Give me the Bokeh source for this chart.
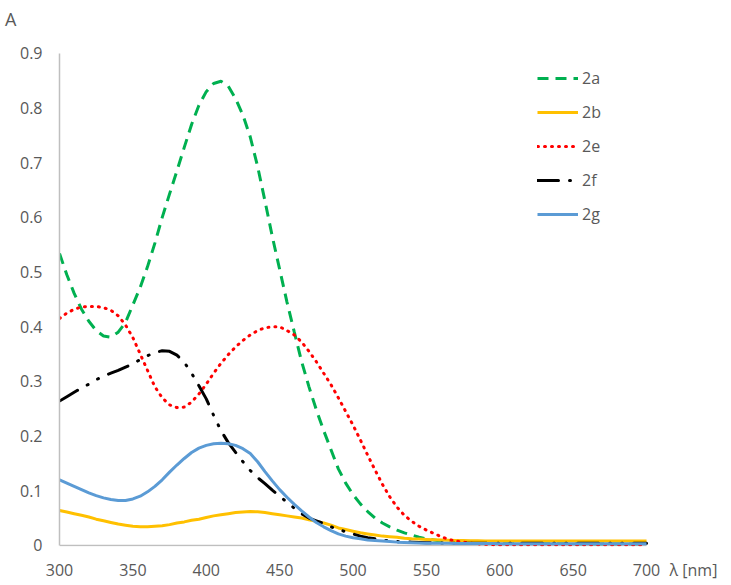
from bokeh.plotting import figure
from bokeh.models import Range1d, FixedTicker, Legend, LinearAxis
from bokeh.embed import file_html
from bokeh.resources import INLINE

wavelength = list(range(300, 705, 5))

a2 = ([0.534, 0.495, 0.461, 0.432, 0.41, 0.393, 0.383, 0.381, 0.39, 0.408,
       0.44, 0.472, 0.51, 0.553, 0.60, 0.643, 0.685, 0.728, 0.77, 0.805,
       0.83, 0.845, 0.849, 0.84, 0.817, 0.787, 0.747, 0.693, 0.63, 0.565,
       0.505, 0.445, 0.39, 0.336, 0.29, 0.248, 0.21, 0.175, 0.14, 0.114,
       0.093, 0.076, 0.062, 0.05, 0.041, 0.034, 0.028, 0.023, 0.019, 0.015,
       0.012, 0.01, 0.008, 0.007, 0.006, 0.0055, 0.005, 0.0045, 0.004, 0.004]
      + [0.004] * 10 + [0.003] * 11)
b2 = ([0.064, 0.061, 0.058, 0.055, 0.052, 0.048, 0.045, 0.042, 0.039, 0.037,
       0.035, 0.034, 0.034, 0.035, 0.036, 0.038, 0.041, 0.043, 0.046, 0.048,
       0.051, 0.054, 0.056, 0.058, 0.060, 0.061, 0.062, 0.0615, 0.060, 0.058,
       0.056, 0.054, 0.052, 0.05, 0.047, 0.044, 0.041, 0.037, 0.032, 0.029,
       0.026, 0.023, 0.021, 0.019, 0.017, 0.016, 0.015, 0.013, 0.012, 0.0115,
       0.011, 0.0105, 0.010, 0.0095, 0.009, 0.009, 0.0085, 0.0085, 0.008, 0.008]
      + [0.008] * 21)
e2 = ([0.415, 0.425, 0.432, 0.436, 0.437, 0.437, 0.435, 0.43, 0.42, 0.403,
       0.38, 0.35, 0.32, 0.29, 0.27, 0.257, 0.252, 0.253, 0.262, 0.277,
       0.295, 0.315, 0.333, 0.349, 0.363, 0.375, 0.385, 0.393, 0.398, 0.40,
       0.40, 0.393, 0.385, 0.372, 0.355, 0.336, 0.315, 0.294, 0.27, 0.245,
       0.22, 0.193, 0.165, 0.138, 0.112, 0.089, 0.07, 0.055, 0.044, 0.035,
       0.028, 0.022, 0.016, 0.011, 0.008, 0.006, 0.004, 0.003, 0.002, 0.0015]
      + [0.001] * 21)
f2 = ([0.264, 0.272, 0.28, 0.288, 0.295, 0.303, 0.31, 0.315, 0.32, 0.326,
       0.332, 0.34, 0.347, 0.353, 0.356, 0.355, 0.348, 0.335, 0.315, 0.292,
       0.268, 0.238, 0.21, 0.188, 0.17, 0.153, 0.137, 0.124, 0.113, 0.101,
       0.09, 0.079, 0.068, 0.058, 0.05, 0.045, 0.04, 0.034, 0.029, 0.025,
       0.021, 0.017, 0.014, 0.012, 0.010, 0.008, 0.007, 0.0065, 0.006, 0.0055,
       0.005, 0.005, 0.0045, 0.0045, 0.004, 0.004, 0.004, 0.004, 0.004, 0.004]
      + [0.004] * 21)
g2 = ([0.12, 0.114, 0.108, 0.102, 0.096, 0.091, 0.087, 0.084, 0.082, 0.082,
       0.085, 0.09, 0.098, 0.108, 0.12, 0.134, 0.147, 0.159, 0.17, 0.178,
       0.183, 0.186, 0.187, 0.186, 0.183, 0.177, 0.168, 0.153, 0.135, 0.118,
       0.102, 0.088, 0.075, 0.063, 0.052, 0.042, 0.034, 0.027, 0.021, 0.017,
       0.014, 0.012, 0.010, 0.009, 0.008, 0.007, 0.006, 0.0055, 0.005, 0.0045,
       0.004, 0.004, 0.004, 0.004, 0.0035, 0.0035, 0.0035, 0.0035, 0.0035, 0.0035]
      + [0.003] * 21)

x_ticks = [300, 350, 400, 450, 500, 550, 600, 650, 700]
y_ticks = [0, 0.1, 0.2, 0.3, 0.4, 0.5, 0.6, 0.7, 0.8, 0.9]
y_tick_labels = ["0", "0.1", "0.2", "0.3", "0.4", "0.5", "0.6", "0.7", "0.8", "0.9"]
x_title = "λ [nm]"
y_title = "A"

FONT = "Open Sans"
GRAY = "#595959"
AXIS_GRAY = "#BFBFBF"

# the frame is widened to the right and upward so the axis titles can sit where the reference has them;
# the visible axis lines are limited to the data span 300-700 / 0-0.9
X_END = 753.8
X_TITLE_POS = 732
Y_START = -0.002
Y_END = 0.9894
Y_TITLE_POS = 0.962

p = figure(width=729, height=583, output_backend="svg", toolbar_location=None,
           x_range=Range1d(300, X_END), y_range=Range1d(Y_START, Y_END),
           min_border_left=59, min_border_right=4, min_border_top=4, min_border_bottom=37)
p.outline_line_color = None
p.xgrid.visible = False
p.ygrid.visible = False

xax = p.below[0]
yax = p.left[0]
for ax in (xax, yax):
    ax.axis_line_color = AXIS_GRAY
    ax.axis_line_width = 1.5
    ax.major_tick_line_color = None
    ax.minor_tick_line_color = None
    ax.major_label_text_font = FONT
    ax.major_label_text_font_size = "16px"
    ax.major_label_text_color = GRAY

xax.ticker = FixedTicker(ticks=x_ticks + [X_TITLE_POS])
xax.major_label_overrides = {X_TITLE_POS: x_title}
xax.axis_line_color = None
xax.major_label_standoff = 6
yax.ticker = FixedTicker(ticks=y_ticks)
yax.bounds = (y_ticks[0], y_ticks[-1])
yax.major_label_overrides = {t: l for t, l in zip(y_ticks, y_tick_labels)}
yax.major_label_standoff = 17
yax.major_tick_out = 0
yax.major_tick_in = 0
yax.minor_tick_out = 0
yax.minor_tick_in = 0

# outer left axis carrying only the y title "A"
ytitle_ax = LinearAxis(ticker=FixedTicker(ticks=[Y_TITLE_POS]),
                       major_label_overrides={Y_TITLE_POS: y_title},
                       axis_line_color=None, major_tick_line_color=None, minor_tick_line_color=None,
                       major_tick_out=0, major_tick_in=0, minor_tick_out=0, minor_tick_in=0,
                       major_label_standoff=0, major_label_text_font=FONT,
                       major_label_text_font_size="18px", major_label_text_color=GRAY)
p.add_layout(ytitle_ax, "left")

# x axis line spanning only the tick range
p.line([x_ticks[0], x_ticks[-1]], [y_ticks[0], y_ticks[0]], line_color=AXIS_GRAY, line_width=1.5)

r_a = p.line(wavelength, a2, line_color="#00B050", line_width=3, line_dash="11 7")
r_b = p.line(wavelength, b2, line_color="#FFC000", line_width=3)
r_e = p.line(wavelength, e2, line_color="#FF0000", line_width=3, line_dash="1 6", line_cap="round")
r_f = p.line(wavelength, f2, line_color="#000000", line_width=3, line_dash="21 11 1 11 1 11", line_cap="round")
r_g = p.line(wavelength, g2, line_color="#5B9BD5", line_width=3)

legend = Legend(items=[("2a", [r_a]), ("2b", [r_b]), ("2e", [r_e]), ("2f", [r_f]), ("2g", [r_g])],
                location=(478, 321), padding=0, margin=0, spacing=12,
                glyph_width=41, glyph_height=20, label_height=20, label_standoff=4,
                border_line_color=None, background_fill_alpha=0,
                label_text_font=FONT, label_text_font_size="16px", label_text_color=GRAY)
p.add_layout(legend)

open("out.html", "w").write(file_html(p, INLINE))
